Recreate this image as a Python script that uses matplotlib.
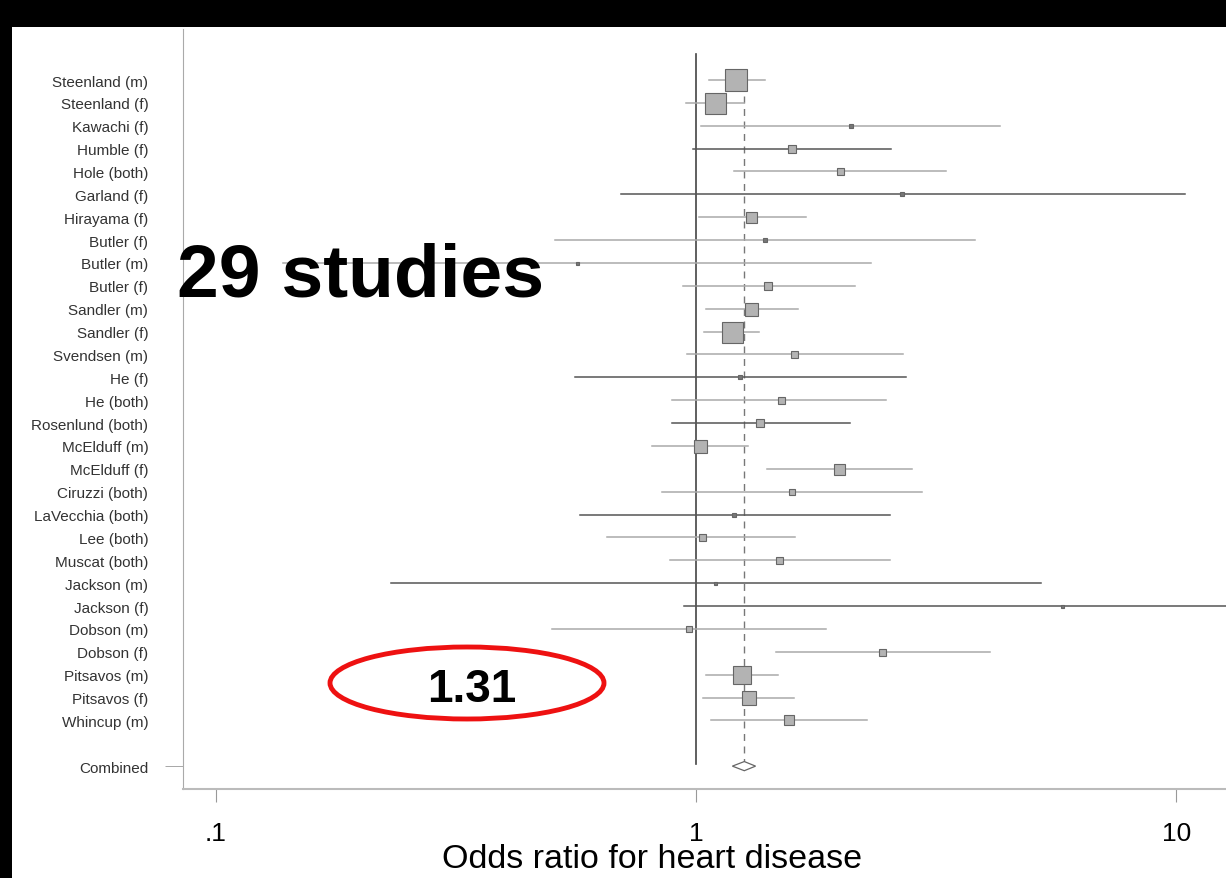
import numpy as np
import matplotlib
matplotlib.use('Agg')
import matplotlib.pyplot as plt
from matplotlib.patches import Rectangle, Ellipse

plt.rcParams['font.family'] = ['Liberation Sans', 'DejaVu Sans']

# studies (odds ratio, 95% CI, square side as weight)
studies = ['Steenland (m)', 'Steenland (f)', 'Kawachi (f)', 'Humble (f)', 'Hole (both)',
           'Garland (f)', 'Hirayama (f)', 'Butler (f)', 'Butler (m)', 'Butler (f)',
           'Sandler (m)', 'Sandler (f)', 'Svendsen (m)', 'He (f)', 'He (both)',
           'Rosenlund (both)', 'McElduff (m)', 'McElduff (f)', 'Ciruzzi (both)',
           'LaVecchia (both)', 'Lee (both)', 'Muscat (both)', 'Jackson (m)',
           'Jackson (f)', 'Dobson (m)', 'Dobson (f)', 'Pitsavos (m)', 'Pitsavos (f)',
           'Whincup (m)']
odds = [1.21, 1.095, 2.10, 1.58, 1.99, 2.68, 1.30, 1.39, 0.565, 1.41,
        1.30, 1.186, 1.60, 1.235, 1.50, 1.36, 1.017, 1.98, 1.58, 1.20,
        1.028, 1.49, 1.095, 5.78, 0.965, 2.44, 1.247, 1.287, 1.56]
ci_low = [1.064, 0.955, 1.024, 0.984, 1.20, 0.698, 1.014, 0.508, 0.138, 0.938,
          1.047, 1.04, 0.958, 0.56, 0.893, 0.893, 0.809, 1.405, 0.85, 0.573,
          0.652, 0.883, 0.232, 0.944, 0.502, 1.47, 1.049, 1.034, 1.074]
ci_high = [1.39, 1.26, 4.30, 2.55, 3.31, 10.4, 1.69, 3.81, 2.31, 2.14,
           1.63, 1.35, 2.70, 2.74, 2.48, 2.09, 1.28, 2.81, 2.96, 2.53,
           1.61, 2.53, 5.23, 15.0, 1.865, 4.09, 1.48, 1.60, 2.27]
weights = [22, 21, 5, 8, 7, 4, 11, 4, 3, 8,
           13, 21, 7, 5, 7, 8, 13, 11, 6, 5,
           7, 7, 3, 3, 6, 7, 18, 14, 10]
combined = 1.26
combined_low = 1.19
combined_high = 1.33

# rows whose CI line is drawn darker in the original
dark_rows = [3, 5, 13, 15, 19, 22, 23]

W, H = 1226, 879
fig = plt.figure(figsize=(W / 100, H / 100), dpi=100, facecolor='white')
# black frame round the slide
fig.patches.append(Rectangle((0, 1 - 28 / H), 1, 28 / H, transform=fig.transFigure,
                             facecolor='black', edgecolor='none'))
fig.patches.append(Rectangle((0, 0), 12 / W, 1, transform=fig.transFigure,
                             facecolor='black', edgecolor='none'))

ax = fig.add_axes([183 / W, 1 - 790 / H, 1 - 183 / W, (790 - 30) / H])
ax.set_xscale('log')
ax.set_xlim(0.0855, 12.68)
ax.set_ylim(31.0, -2.23)

y = np.arange(len(studies))
y_comb = len(studies) + 1

for i in range(len(studies)):
    col = '#555555' if i in dark_rows else '#aaaaaa'
    ax.plot([ci_low[i], ci_high[i]], [y[i], y[i]], color=col, lw=1.1, zorder=2)
    small = weights[i] <= 5
    ax.plot(odds[i], y[i], marker='s', ms=weights[i] * 0.72,
            mfc='#777777' if small else '#b3b3b3', mec='#666666', mew=0.8, zorder=3)

ax.plot([1, 1], [-1.14, 29.9], color='#444444', lw=1.2, zorder=1)
ax.plot([combined, combined], [-0.4, y_comb - 0.2], color='#777777', lw=1.0,
        dashes=(5, 4), zorder=1)

h = 0.2
ax.fill([combined_low, combined, combined_high, combined],
        [y_comb, y_comb - h, y_comb, y_comb + h],
        facecolor='white', edgecolor='#666666', lw=0.9, zorder=4)

ax.set_yticks(y)
ax.set_yticklabels(studies, fontsize=11, color='#333333')
ax.tick_params(axis='y', which='major', length=0, pad=25)
ax.set_yticks([y_comb], minor=True)
ax.set_yticklabels(['Combined'], minor=True, fontsize=11, color='#333333')
ax.tick_params(axis='y', which='minor', length=13, pad=12, color='#999999')

ax.set_xticks([0.1, 1, 10])
ax.set_xticklabels(['.1', '1', '10'], fontsize=19)
ax.xaxis.set_minor_locator(matplotlib.ticker.NullLocator())
ax.tick_params(axis='x', length=9, color='#999999', pad=14)
ax.set_xlabel('Odds ratio for heart disease', fontsize=24.5)
ax.xaxis.set_label_coords((652 - 183) / (W - 183), -(860 - 790) / (790 - 30))
ax.xaxis.label.set_va('center')

for s in ['top', 'right']:
    ax.spines[s].set_visible(False)
ax.spines['left'].set_color('#aaaaaa')
ax.spines['bottom'].set_color('#bbbbbb')
ax.spines['bottom'].set_linewidth(1.5)

fig.text(361 / W, 1 - 277 / H, '29 studies', fontsize=54, fontweight='bold',
         ha='center', va='center', color='black', zorder=6)

fig.patches.append(Ellipse((467 / W, 1 - 684 / H), 274 / W, 72 / H,
                           transform=fig.transFigure, facecolor='none',
                           edgecolor='#ee1111', lw=3.5, zorder=5))
fig.text(472 / W, 1 - 690 / H, '1.31', fontsize=33, fontweight='bold',
         ha='center', va='center', color='black', zorder=6)

fig.savefig('out.png', dpi=100, facecolor=fig.get_facecolor())
